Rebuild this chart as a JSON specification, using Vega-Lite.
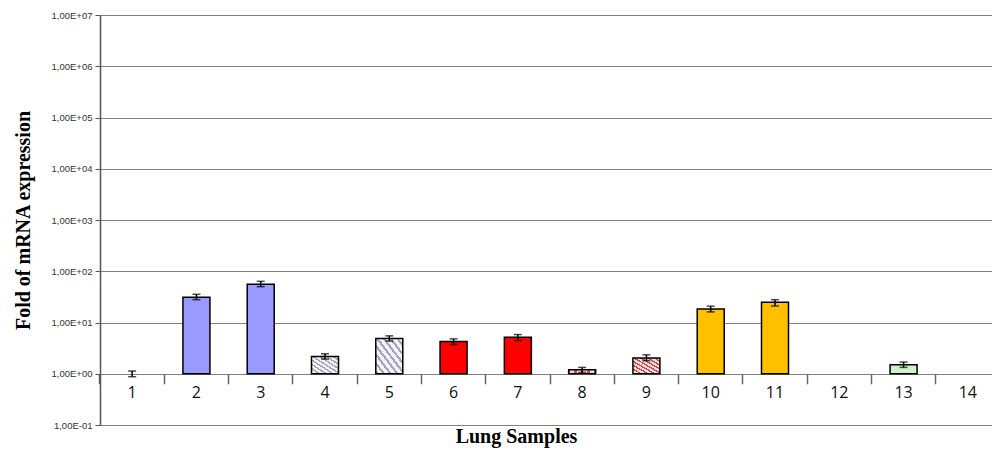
{
  "$schema": "https://vega.github.io/schema/vega-lite/v6.json",
  "width": 900,
  "height": 410,
  "autosize": "none",
  "padding": {"left": 100, "top": 15, "right": 0, "bottom": 27},
  "background": "white",
  "config": {"view": {"stroke": null}},
  "data": {
    "values": [
      {"sample": 1, "value": 1.0, "lo": 0.875, "hi": 1.13, "group": "none"},
      {"sample": 2, "value": 31, "lo": 27.9, "hi": 35.5, "group": "blue"},
      {"sample": 3, "value": 56, "lo": 50, "hi": 63.6, "group": "blue"},
      {"sample": 4, "value": 2.17, "lo": 1.93, "hi": 2.45, "group": "grayhatch"},
      {"sample": 5, "value": 4.86, "lo": 4.33, "hi": 5.49, "group": "grayhatch"},
      {"sample": 6, "value": 4.25, "lo": 3.72, "hi": 4.8, "group": "red"},
      {"sample": 7, "value": 5.17, "lo": 4.45, "hi": 5.82, "group": "red"},
      {"sample": 8, "value": 1.2, "lo": 1.06, "hi": 1.33, "group": "redhatch"},
      {"sample": 9, "value": 2.02, "lo": 1.79, "hi": 2.34, "group": "redhatch"},
      {"sample": 10, "value": 18.4, "lo": 16.1, "hi": 20.8, "group": "orange"},
      {"sample": 11, "value": 24.8, "lo": 21.0, "hi": 27.9, "group": "orange"},
      {"sample": 12, "value": null, "lo": null, "hi": null, "group": "none"},
      {"sample": 13, "value": 1.5, "lo": 1.33, "hi": 1.69, "group": "green"},
      {"sample": 14, "value": null, "lo": null, "hi": null, "group": "none"}
    ]
  },
  "encoding": {
    "x": {
      "field": "sample",
      "type": "ordinal",
      "scale": {"domain": [1, 2, 3, 4, 5, 6, 7, 8, 9, 10, 11, 12, 13, 14], "paddingInner": 0, "paddingOuter": 0},
      "axis": {
        "title": "Lung Samples",
        "titleFont": "Liberation Serif",
        "titleFontSize": 20,
        "titleFontWeight": "bold",
        "titleColor": "#000",
        "titleX": 416,
        "titleY": 53,
        "titleBaseline": "top",
        "offset": -51.25,
        "domain": false,
        "ticks": true,
        "tickSize": 10,
        "tickColor": "#666",
        "tickWidth": 1.5,
        "bandPosition": 0,
        "labelAngle": 0,
        "labelFont": "Open Sans",
        "labelFontSize": 16,
        "labelColor": "#111",
        "labelPadding": 1,
        "grid": false
      }
    }
  },
  "layer": [
    {
      "transform": [{"filter": "datum.value > 1 && datum.group != 'grayhatch' && datum.group != 'redhatch'"}],
      "mark": {"type": "bar", "width": {"band": 0.42}, "stroke": "black", "strokeWidth": 1.5},
      "encoding": {
        "y": {
          "field": "value",
          "type": "quantitative",
          "scale": {"type": "log", "domain": [0.1, 10000000], "nice": false},
          "axis": {
            "title": "Fold of mRNA expression",
            "titleFont": "Liberation Serif",
            "titleFontSize": 20,
            "titleFontWeight": "bold",
            "titleColor": "#000",
            "titlePadding": 18,
            "values": [0.1, 1, 10, 100, 1000, 10000, 100000, 1000000, 10000000],
            "labelExpr": "'1,00E' + (datum.value >= 1 ? '+' : '-') + (abs(round(log(datum.value)/LN10)) < 10 ? '0' : '') + abs(round(log(datum.value)/LN10))",
            "labelFont": "Liberation Sans",
            "labelFontSize": 9.5,
            "labelColor": "#333",
            "labelPadding": 3,
            "tickSize": 5,
            "tickColor": "#555",
            "domainColor": "#555",
            "domainWidth": 1.5,
            "grid": true,
            "gridColor": "#808080",
            "gridOpacity": 1,
            "gridWidth": 1
          }
        },
        "y2": {"datum": 1},
        "color": {
          "field": "group",
          "type": "nominal",
          "scale": {
            "domain": ["blue", "red", "orange", "green", "none"],
            "range": ["#9999FF", "#FF0000", "#FFC000", "#D2F0CC", "#FFFFFF"]
          },
          "legend": null
        }
      }
    },
    {
      "transform": [{"filter": "datum.group == 'grayhatch'"}],
      "mark": {
        "type": "bar", "width": {"band": 0.42}, "stroke": "black", "strokeWidth": 1.5,
        "fill": {
          "gradient": "linear", "x1": 0, "y1": 1, "x2": 1, "y2": 0,
          "stops": [
            {"offset": 0, "color": "#A4A4BC"}, {"offset": 0.05, "color": "#A4A4BC"}, {"offset": 0.05, "color": "#F4F4F8"}, {"offset": 0.125, "color": "#F4F4F8"},
            {"offset": 0.125, "color": "#A4A4BC"}, {"offset": 0.175, "color": "#A4A4BC"}, {"offset": 0.175, "color": "#F4F4F8"}, {"offset": 0.25, "color": "#F4F4F8"},
            {"offset": 0.25, "color": "#A4A4BC"}, {"offset": 0.3, "color": "#A4A4BC"}, {"offset": 0.3, "color": "#F4F4F8"}, {"offset": 0.375, "color": "#F4F4F8"},
            {"offset": 0.375, "color": "#A4A4BC"}, {"offset": 0.425, "color": "#A4A4BC"}, {"offset": 0.425, "color": "#F4F4F8"}, {"offset": 0.5, "color": "#F4F4F8"},
            {"offset": 0.5, "color": "#A4A4BC"}, {"offset": 0.55, "color": "#A4A4BC"}, {"offset": 0.55, "color": "#F4F4F8"}, {"offset": 0.625, "color": "#F4F4F8"},
            {"offset": 0.625, "color": "#A4A4BC"}, {"offset": 0.675, "color": "#A4A4BC"}, {"offset": 0.675, "color": "#F4F4F8"}, {"offset": 0.75, "color": "#F4F4F8"},
            {"offset": 0.75, "color": "#A4A4BC"}, {"offset": 0.8, "color": "#A4A4BC"}, {"offset": 0.8, "color": "#F4F4F8"}, {"offset": 0.875, "color": "#F4F4F8"},
            {"offset": 0.875, "color": "#A4A4BC"}, {"offset": 0.925, "color": "#A4A4BC"}, {"offset": 0.925, "color": "#F4F4F8"}, {"offset": 1, "color": "#F4F4F8"}
          ]
        }
      },
      "encoding": {
        "y": {"field": "value", "type": "quantitative"},
        "y2": {"datum": 1}
      }
    },
    {
      "transform": [{"filter": "datum.group == 'redhatch'"}],
      "mark": {
        "type": "bar", "width": {"band": 0.42}, "stroke": "black", "strokeWidth": 1.5,
        "fill": {
          "gradient": "linear", "x1": 0, "y1": 1, "x2": 1, "y2": 0,
          "stops": [
            {"offset": 0, "color": "#C84A4A"}, {"offset": 0.05, "color": "#C84A4A"}, {"offset": 0.05, "color": "#F6DCDC"}, {"offset": 0.125, "color": "#F6DCDC"},
            {"offset": 0.125, "color": "#C84A4A"}, {"offset": 0.175, "color": "#C84A4A"}, {"offset": 0.175, "color": "#F6DCDC"}, {"offset": 0.25, "color": "#F6DCDC"},
            {"offset": 0.25, "color": "#C84A4A"}, {"offset": 0.3, "color": "#C84A4A"}, {"offset": 0.3, "color": "#F6DCDC"}, {"offset": 0.375, "color": "#F6DCDC"},
            {"offset": 0.375, "color": "#C84A4A"}, {"offset": 0.425, "color": "#C84A4A"}, {"offset": 0.425, "color": "#F6DCDC"}, {"offset": 0.5, "color": "#F6DCDC"},
            {"offset": 0.5, "color": "#C84A4A"}, {"offset": 0.55, "color": "#C84A4A"}, {"offset": 0.55, "color": "#F6DCDC"}, {"offset": 0.625, "color": "#F6DCDC"},
            {"offset": 0.625, "color": "#C84A4A"}, {"offset": 0.675, "color": "#C84A4A"}, {"offset": 0.675, "color": "#F6DCDC"}, {"offset": 0.75, "color": "#F6DCDC"},
            {"offset": 0.75, "color": "#C84A4A"}, {"offset": 0.8, "color": "#C84A4A"}, {"offset": 0.8, "color": "#F6DCDC"}, {"offset": 0.875, "color": "#F6DCDC"},
            {"offset": 0.875, "color": "#C84A4A"}, {"offset": 0.925, "color": "#C84A4A"}, {"offset": 0.925, "color": "#F6DCDC"}, {"offset": 1, "color": "#F6DCDC"}
          ]
        }
      },
      "encoding": {
        "y": {"field": "value", "type": "quantitative"},
        "y2": {"datum": 1}
      }
    },
    {
      "transform": [{"filter": "datum.lo != null"}],
      "mark": {"type": "rule", "strokeWidth": 1.5, "color": "black"},
      "encoding": {
        "y": {"field": "lo", "type": "quantitative"},
        "y2": {"field": "hi"}
      }
    },
    {
      "transform": [{"filter": "datum.lo != null"}],
      "mark": {"type": "tick", "orient": "horizontal", "size": 8, "thickness": 1.5, "color": "black"},
      "encoding": {"y": {"field": "lo", "type": "quantitative"}}
    },
    {
      "transform": [{"filter": "datum.hi != null"}],
      "mark": {"type": "tick", "orient": "horizontal", "size": 8, "thickness": 1.5, "color": "black"},
      "encoding": {"y": {"field": "hi", "type": "quantitative"}}
    }
  ]
}
